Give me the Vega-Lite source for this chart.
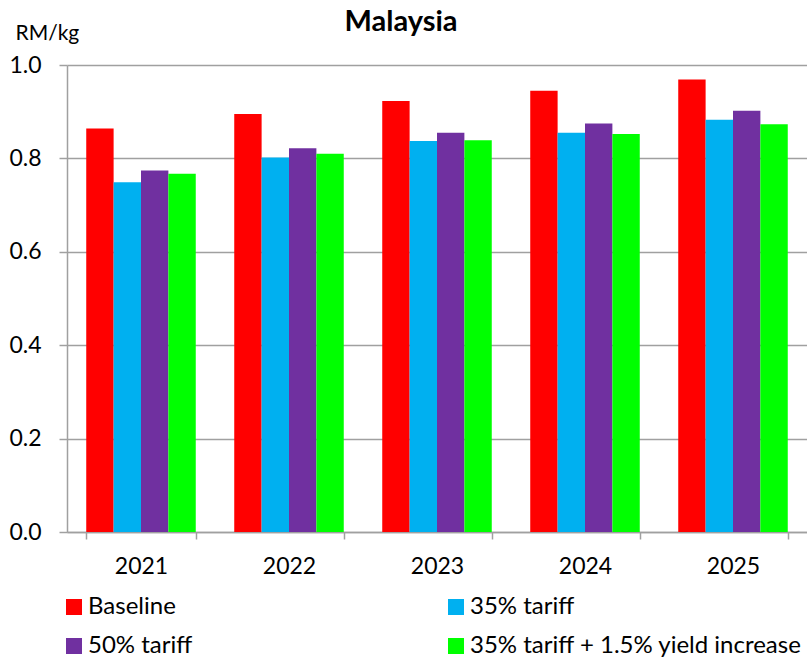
{
  "$schema": "https://vega.github.io/schema/vega-lite/v6.json",
  "width": 740,
  "height": 467,
  "autosize": {"type": "none"},
  "padding": {"left": 67, "top": 65, "right": 0, "bottom": 128},
  "background": "white",
  "title": {
    "text": "Malaysia",
    "font": "Lato",
    "fontSize": 29,
    "fontWeight": "bold",
    "color": "black",
    "anchor": "middle",
    "baseline": "alphabetic",
    "offset": -10,
    "dy": 28,
    "dx": -36
  },
  "data": {
    "values": [
      {"year": "2021", "scenario": "Baseline", "price": 0.864},
      {"year": "2021", "scenario": "35% tariff", "price": 0.749},
      {"year": "2021", "scenario": "50% tariff", "price": 0.774},
      {"year": "2021", "scenario": "35% tariff + 1.5% yield increase", "price": 0.767},
      {"year": "2022", "scenario": "Baseline", "price": 0.895},
      {"year": "2022", "scenario": "35% tariff", "price": 0.802},
      {"year": "2022", "scenario": "50% tariff", "price": 0.822},
      {"year": "2022", "scenario": "35% tariff + 1.5% yield increase", "price": 0.810},
      {"year": "2023", "scenario": "Baseline", "price": 0.923},
      {"year": "2023", "scenario": "35% tariff", "price": 0.837},
      {"year": "2023", "scenario": "50% tariff", "price": 0.855},
      {"year": "2023", "scenario": "35% tariff + 1.5% yield increase", "price": 0.839},
      {"year": "2024", "scenario": "Baseline", "price": 0.945},
      {"year": "2024", "scenario": "35% tariff", "price": 0.855},
      {"year": "2024", "scenario": "50% tariff", "price": 0.875},
      {"year": "2024", "scenario": "35% tariff + 1.5% yield increase", "price": 0.852},
      {"year": "2025", "scenario": "Baseline", "price": 0.969},
      {"year": "2025", "scenario": "35% tariff", "price": 0.883},
      {"year": "2025", "scenario": "50% tariff", "price": 0.902},
      {"year": "2025", "scenario": "35% tariff + 1.5% yield increase", "price": 0.873}
    ]
  },
  "mark": {"type": "bar"},
  "encoding": {
    "x": {
      "field": "year",
      "type": "nominal",
      "scale": {"paddingInner": 0.26, "paddingOuter": 0.13},
      "axis": {
        "title": null,
        "labelAngle": 0,
        "labelFont": "Lato",
        "labelFontSize": 23,
        "labelColor": "black",
        "labelPadding": 16,
        "tickBand": "extent",
        "tickSize": 7,
        "tickColor": "#a0a0a0",
        "tickWidth": 1.5,
        "domainColor": "#a0a0a0",
        "domainWidth": 1.5
      }
    },
    "xOffset": {
      "field": "scenario",
      "type": "nominal",
      "sort": ["Baseline", "35% tariff", "50% tariff", "35% tariff + 1.5% yield increase"],
      "scale": {"paddingInner": 0, "paddingOuter": 0}
    },
    "y": {
      "field": "price",
      "type": "quantitative",
      "scale": {"domain": [0, 1], "nice": false},
      "axis": {
        "title": "RM/kg",
        "titleAngle": 0,
        "titleAlign": "left",
        "titleBaseline": "alphabetic",
        "titleX": -52,
        "titleY": -26,
        "titleFont": "Lato",
        "titleFontSize": 21,
        "titleFontWeight": "normal",
        "titleColor": "black",
        "values": [0, 0.2, 0.4, 0.6, 0.8, 1.0],
        "format": ".1f",
        "labelFont": "Lato",
        "labelFontSize": 23,
        "labelColor": "black",
        "labelPadding": 18,
        "tickSize": 8,
        "tickColor": "#a0a0a0",
        "tickWidth": 1.5,
        "domainColor": "#a0a0a0",
        "domainWidth": 1.5,
        "grid": true,
        "gridColor": "#a0a0a0",
        "gridWidth": 1.5
      }
    },
    "color": {
      "field": "scenario",
      "type": "nominal",
      "scale": {
        "domain": ["Baseline", "35% tariff", "50% tariff", "35% tariff + 1.5% yield increase"],
        "range": ["#ff0000", "#00b0f0", "#7030a0", "#00ff00"]
      },
      "legend": {
        "title": null,
        "orient": "none",
        "legendX": -5,
        "legendY": 530,
        "direction": "horizontal",
        "columns": 2,
        "columnPadding": 251,
        "rowPadding": 15,
        "padding": 0,
        "symbolType": "square",
        "symbolSize": 256,
        "symbolStrokeWidth": 0,
        "labelOffset": 2,
        "labelFont": "Lato",
        "labelFontSize": 24,
        "labelColor": "black",
        "labelLimit": 400
      }
    }
  },
  "config": {
    "view": {"stroke": null}
  }
}
